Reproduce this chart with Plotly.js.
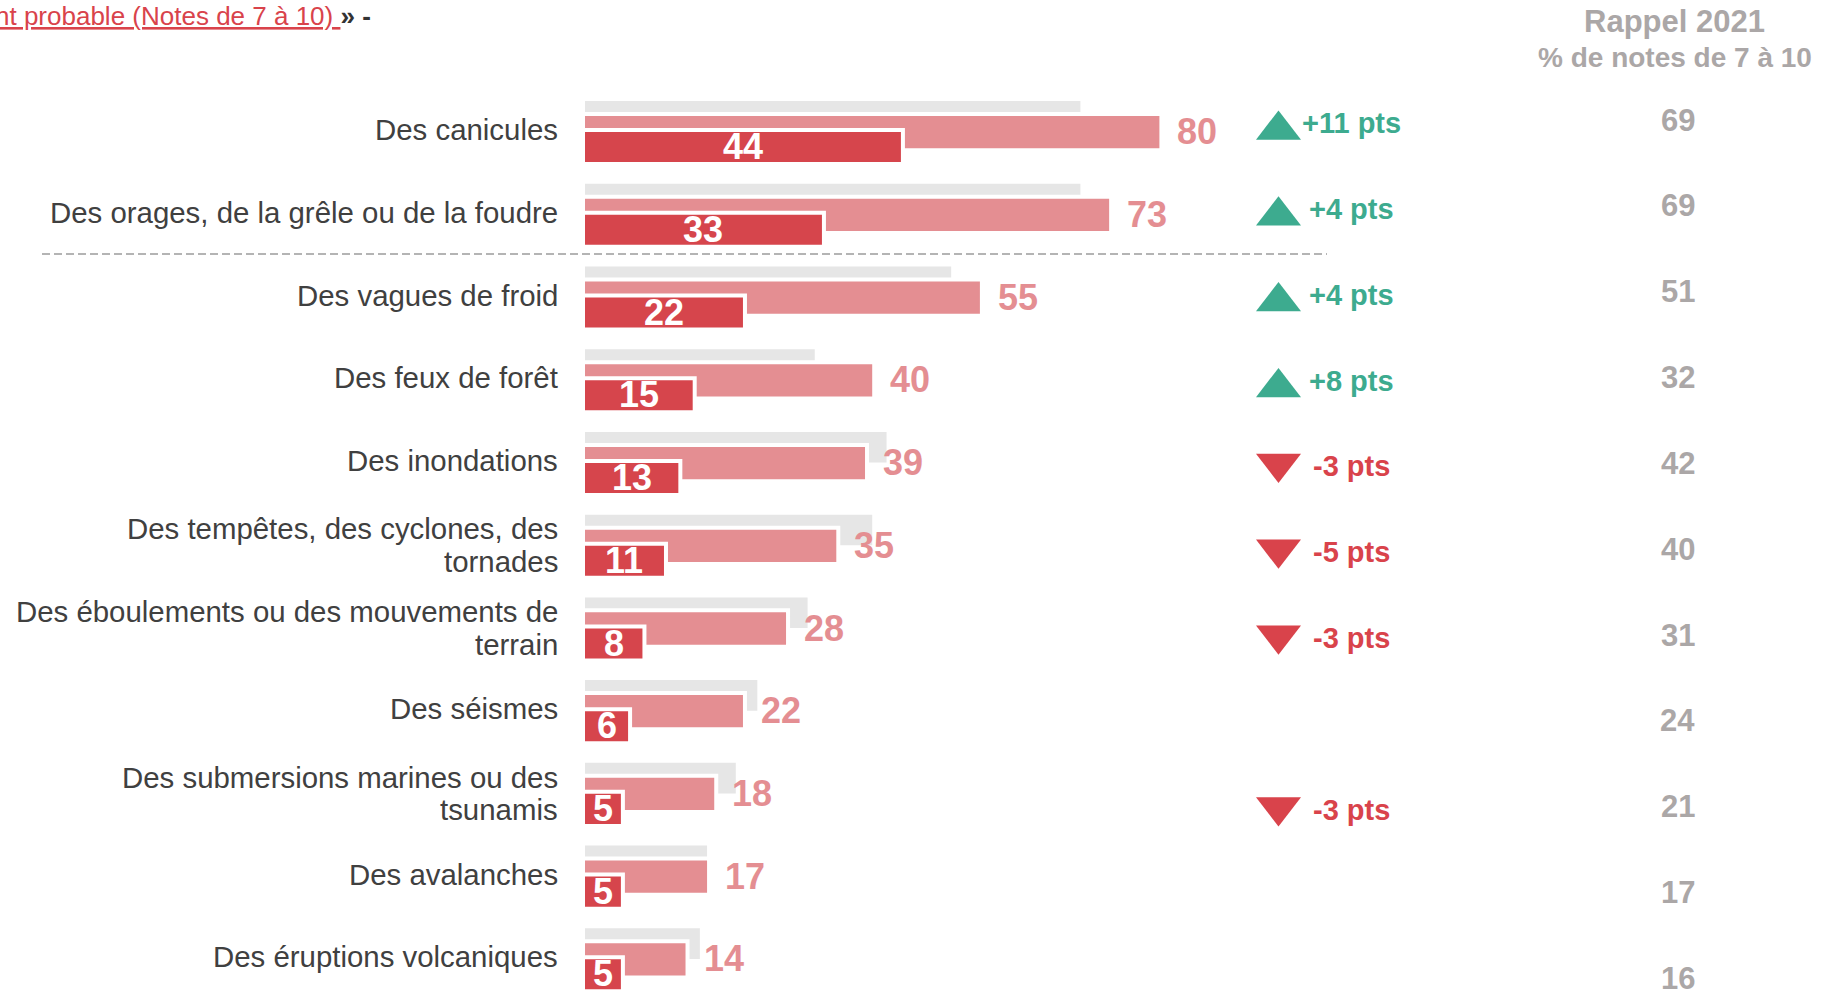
<!DOCTYPE html>
<html><head><meta charset="utf-8">
<script src="https://cdn.plot.ly/plotly-3.0.1.min.js"></script>
<style>html,body{margin:0;padding:0;background:#fff;overflow:hidden}</style>
</head><body>
<div id="chart" style="width:1823px;height:992px"></div>
<script>
// ---------- data ----------
const categories = [
  "Des canicules",
  "Des orages, de la grêle ou de la foudre",
  "Des vagues de froid",
  "Des feux de forêt",
  "Des inondations",
  "Des tempêtes, des cyclones, des<br>tornades",
  "Des éboulements ou des mouvements de<br>terrain",
  "Des séismes",
  "Des submersions marines ou des<br>tsunamis",
  "Des avalanches",
  "Des éruptions volcaniques"
];
const rappel2021   = [69, 69, 51, 32, 42, 40, 31, 24, 21, 17, 16];
const probable     = [80, 73, 55, 40, 39, 35, 28, 22, 18, 17, 14];
const tresProbable = [44, 33, 22, 15, 13, 11, 8, 6, 5, 5, 5];
const evolution    = [11, 4, 4, 8, -3, -5, -3, null, -3, null, null];
const titleTail    = "nt probable (Notes de 7 à 10) ";
const titleEnd     = "» -";
const headerLines  = ["Rappel 2021", "% de notes de 7 à 10"];

// ---------- layout geometry ----------
const W = 1823, H = 992, ML = 585, MT = 82;
const PW = W - ML, PH = H - MT;
const PX_PER_UNIT = 7.18;
const RAPPEL_PX = 85.85, RAPPEL_FIRST = 120;
const LABEL_LINE_PX = 32.6;
const y2Top = -(RAPPEL_FIRST - MT) / RAPPEL_PX;
const y2Bottom = y2Top + PH / RAPPEL_PX;
const px2paperX = px => (px - ML) / PW;
const px2paperY = py => (H - py) / PH;

const FONT = "'Liberation Sans', Arial, sans-serif";
const GREY = "#e6e6e6", PINK = "#e48e92", RED = "#d6454c";
const GREEN = "#3dab8f", DRED = "#d9434b", RGREY = "#aba7a7", LABEL = "#404040";
const TRI_SIZE = 39, TRI_R = TRI_SIZE / 2;
const HALO = 8; // white outline (4px outside each bar)

function barTrace(values, offset, width, color, halo) {
  return { type: "bar", orientation: "h", y: categories, x: values, base: 0,
    offset: offset, width: width, hoverinfo: "skip",
    marker: halo ? { color: "#ffffff", line: { color: "#ffffff", width: HALO } }
                 : { color: color, line: { width: 0 } } };
}

const traces = [
  barTrace(rappel2021, -0.37, 0.37, GREY, false),
  barTrace(probable, -0.189, 0.39, PINK, true),
  barTrace(probable, -0.189, 0.39, PINK, false),
  barTrace(tresProbable, 0.005, 0.363, RED, true),
  barTrace(tresProbable, 0.005, 0.363, RED, false)
];

// triangles for the evolution column
const triX = [], triY = [], triSym = [], triCol = [];
evolution.forEach((d, i) => {
  if (d === null) return;
  triX.push(px2paperX(1278.5));
  const shift = d > 0 ? (5 + TRI_R / 4) : (5 - TRI_R / 4);
  triY.push(i + shift / RAPPEL_PX);
  triSym.push(d > 0 ? "triangle-up" : "triangle-down");
  triCol.push(d > 0 ? GREEN : DRED);
});
traces.push({ type: "scatter", mode: "markers", xaxis: "x2", yaxis: "y2",
  x: triX, y: triY, marker: { symbol: triSym, color: triCol, size: TRI_SIZE, line: { width: 0 } },
  hoverinfo: "skip", cliponaxis: false });

const annotations = [];
categories.forEach((c, i) => {
  // category label, one annotation per line (tight line spacing)
  const lines = c.split("<br>");
  lines.forEach((ln, k) => {
    const single = lines.length === 1;
    annotations.push({ xref: "paper", yref: "y", x: px2paperX(559.5), y: c, text: ln,
      showarrow: false, xanchor: "right", yanchor: "middle",
      yshift: single ? 2 : ((lines.length - 1) / 2 - k) * LABEL_LINE_PX,
      font: { family: FONT, size: 29.4, color: LABEL } });
  });
  annotations.push({ xref: "x", yref: "y", x: probable[i], y: c, text: String(probable[i]),
    showarrow: false, xanchor: "left", yanchor: "middle", xshift: 16, yshift: 0,
    font: { family: FONT, size: 36, color: PINK, weight: "bold" } });
  annotations.push({ xref: "x", yref: "y", x: tresProbable[i] / 2, y: c, text: String(tresProbable[i]),
    showarrow: false, xanchor: "center", yanchor: "middle", yshift: -15,
    font: { family: FONT, size: 36, color: "#ffffff", weight: "bold" } });
  annotations.push({ xref: "paper", yref: "y2", x: px2paperX(1677.5), y: i, text: "<b>" + rappel2021[i] + "</b>",
    showarrow: false, xanchor: "center", yanchor: "middle",
    font: { family: FONT, size: 31, color: RGREY } });
  const d = evolution[i];
  if (d !== null) {
    annotations.push({ xref: "paper", yref: "y2", x: px2paperX(1351), y: i,
      text: "<b>" + (d > 0 ? "+" : "") + d + " pts</b>",
      showarrow: false, xanchor: "center", yanchor: "middle", yshift: -3,
      font: { family: FONT, size: 29, color: d > 0 ? GREEN : DRED } });
  }
});
annotations.push({ xref: "paper", yref: "paper", x: px2paperX(1674), y: px2paperY(21),
  text: "<b>" + headerLines[0] + "</b>", showarrow: false, xanchor: "center", yanchor: "middle",
  font: { family: FONT, size: 31, color: RGREY } });
annotations.push({ xref: "paper", yref: "paper", x: px2paperX(1674.5), y: px2paperY(57),
  text: "<b>" + headerLines[1] + "</b>", showarrow: false, xanchor: "center", yanchor: "middle",
  font: { family: FONT, size: 28, color: RGREY } });
annotations.push({ xref: "paper", yref: "paper", x: px2paperX(373), y: px2paperY(16),
  text: "<u>" + titleTail + "</u><span style='color:#333333'><b>" + titleEnd + "</b></span>",
  showarrow: false, xanchor: "right", yanchor: "middle",
  font: { family: FONT, size: 26, color: DRED } });

const layout = {
  width: W, height: H,
  margin: { l: ML, r: 0, t: MT, b: 0, pad: 0, autoexpand: false },
  paper_bgcolor: "#ffffff", plot_bgcolor: "rgba(0,0,0,0)",
  barmode: "overlay", showlegend: false,
  xaxis: { range: [0, PW / PX_PER_UNIT], visible: false, fixedrange: true },
  xaxis2: { overlaying: "x", range: [0, 1], visible: false, fixedrange: true },
  yaxis: { type: "category", categoryorder: "array", categoryarray: categories,
    range: [categories.length - 0.6, -0.6], showgrid: false, zeroline: false, showline: false,
    ticks: "", showticklabels: false, automargin: false, fixedrange: true },
  yaxis2: { overlaying: "y", range: [y2Bottom, y2Top], visible: false, fixedrange: true },
  shapes: [{ type: "line", xref: "paper", yref: "y", x0: px2paperX(42), x1: px2paperX(1327),
    y0: 1.48, y1: 1.48, line: { color: "#b4b4b4", width: 2, dash: "8px,4px" } }],
  annotations: annotations,
  font: { family: FONT }
};

Plotly.newPlot("chart", traces, layout, { staticPlot: true, displayModeBar: false });
</script>
</body></html>
